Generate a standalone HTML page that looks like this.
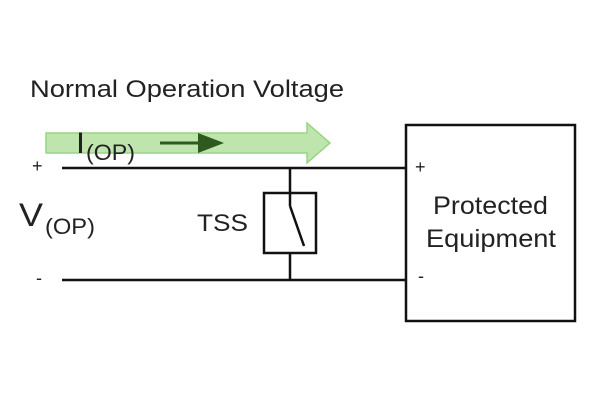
<!DOCTYPE html>
<html><head><meta charset="utf-8"><style>
html,body{margin:0;padding:0;background:#fff;}
svg{display:block;}
text{font-family:"Liberation Sans",Arial,sans-serif;fill:#222;}
</style></head><body>
<svg width="600" height="400" viewBox="0 0 600 400" xmlns="http://www.w3.org/2000/svg">
<rect width="600" height="400" fill="#fff"/>
<text x="30" y="97" font-size="24" textLength="314" lengthAdjust="spacingAndGlyphs">Normal Operation Voltage</text>
<polygon points="46,133 307,133 307,123 330,143 307,163 307,153 46,153" fill="#b9e3a6" stroke="#8fd07a" stroke-width="1.5" opacity="0.9"/>
<text x="76" y="153" font-size="30" textLength="9" lengthAdjust="spacingAndGlyphs">I</text>
<text x="86" y="160" font-size="22" textLength="49" lengthAdjust="spacingAndGlyphs">(OP)</text>
<line x1="160" y1="143" x2="205" y2="143" stroke="#2f5a1e" stroke-width="3"/>
<polygon points="198,133 224,143 198,153" fill="#2f5a1e"/>
<line x1="62" y1="168" x2="406" y2="168" stroke="#111" stroke-width="2.5"/>
<line x1="62" y1="280" x2="406" y2="280" stroke="#111" stroke-width="2.5"/>
<text x="32" y="172" font-size="18">+</text>
<text x="36" y="284" font-size="18">-</text>
<text x="19" y="226" font-size="32" textLength="24" lengthAdjust="spacingAndGlyphs">V</text>
<text x="45" y="234" font-size="22" textLength="50" lengthAdjust="spacingAndGlyphs">(OP)</text>
<line x1="290" y1="168" x2="290" y2="280" stroke="#111" stroke-width="2.5"/>
<rect x="264" y="193" width="52" height="60" fill="#fff" stroke="#111" stroke-width="2.5"/>
<line x1="290" y1="193" x2="290" y2="206" stroke="#111" stroke-width="2.5"/>
<line x1="290" y1="206" x2="304" y2="246" stroke="#111" stroke-width="2.5"/>
<text x="197" y="231" font-size="24" textLength="51" lengthAdjust="spacingAndGlyphs">TSS</text>
<rect x="406" y="125" width="169" height="196" fill="#fff" stroke="#111" stroke-width="2.5"/>
<text x="415" y="173" font-size="18">+</text>
<text x="418" y="282" font-size="18">-</text>
<text x="433" y="214" font-size="25" textLength="115" lengthAdjust="spacingAndGlyphs">Protected</text>
<text x="426" y="247" font-size="25" textLength="130" lengthAdjust="spacingAndGlyphs">Equipment</text>
</svg>
</body></html>
